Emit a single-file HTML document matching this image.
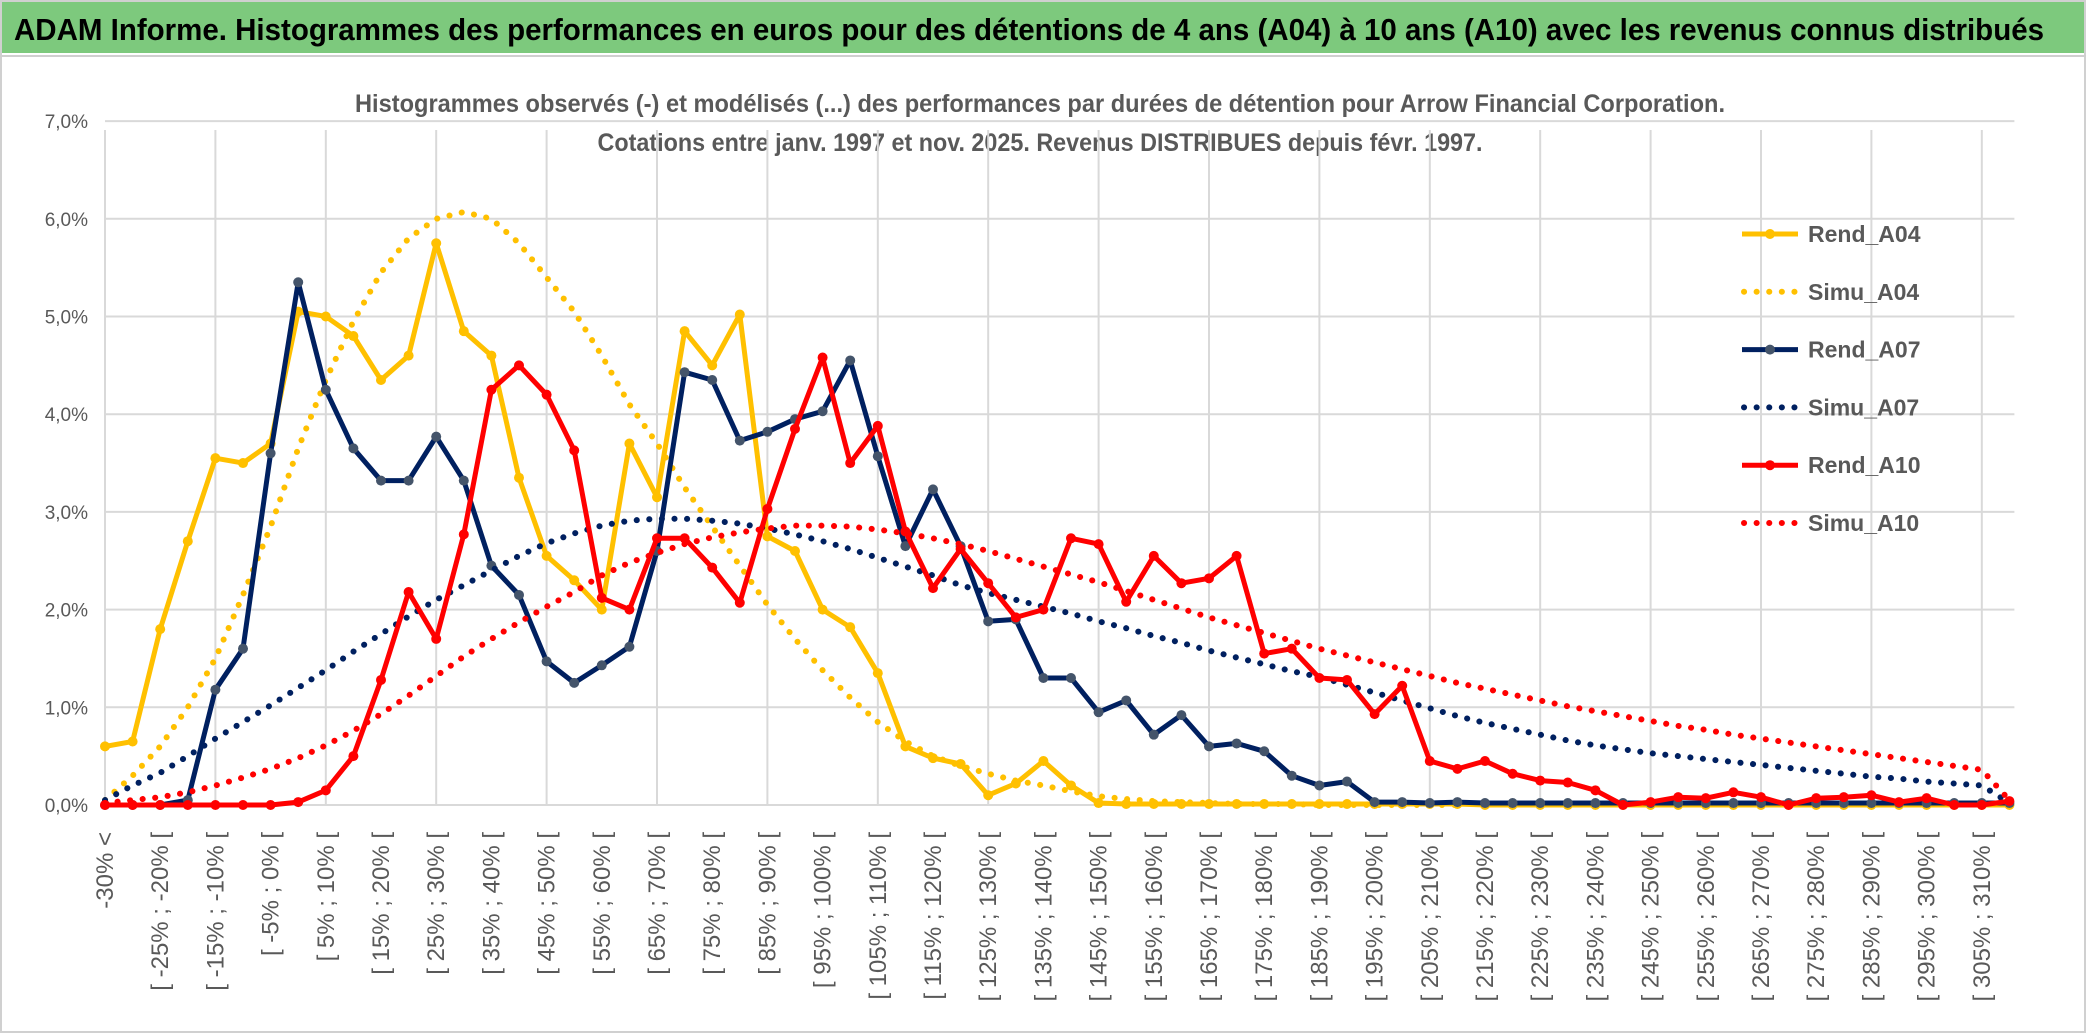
<!DOCTYPE html>
<html><head><meta charset="utf-8"><style>
html,body{margin:0;padding:0;background:#fff;}
svg{display:block;font-family:"Liberation Sans",sans-serif;}
</style></head><body>
<svg id="chart" width="2086" height="1033" viewBox="0 0 2086 1033" xmlns="http://www.w3.org/2000/svg">
<rect x="0" y="0" width="2086" height="1033" fill="#fff"/>
<rect x="1" y="1" width="2084" height="1031" fill="none" stroke="#d0d0d0" stroke-width="2"/>
<rect x="2" y="2" width="2082" height="51" fill="#7DC97D"/>
<line x1="0" y1="56" x2="2086" y2="56" stroke="#cfcfcf" stroke-width="2"/>
<text x="14" y="40" font-size="31" font-weight="bold" fill="#000" textLength="2030" lengthAdjust="spacingAndGlyphs">ADAM Informe. Histogrammes des performances en euros pour des détentions de 4 ans (A04) à 10 ans (A10) avec les revenus connus distribués</text>
<text x="1040" y="112" font-size="25" font-weight="bold" fill="#595959" text-anchor="middle" textLength="1370" lengthAdjust="spacingAndGlyphs">Histogrammes observés (-) et modélisés (...) des performances par durées de détention pour Arrow Financial Corporation.</text>
<text x="1040" y="151" font-size="25" font-weight="bold" fill="#595959" text-anchor="middle" textLength="885" lengthAdjust="spacingAndGlyphs">Cotations entre janv. 1997 et nov. 2025. Revenus DISTRIBUES depuis févr. 1997.</text>
<g id="grid"></g>
<g id="yticks"></g>
<g id="xticks"></g>
<g id="series"></g>
<g id="legend"></g>
</svg>
<script>
const yTicks = [0,1,2,3,4,5,6,7];
const rendA04 = [0.6,0.65,1.8,2.7,3.55,3.5,3.7,5.05,5.0,4.8,4.35,4.6,5.75,4.85,4.6,3.35,2.55,2.3,2.0,3.7,3.15,4.85,4.5,5.02,2.75,2.6,2.0,1.82,1.35,0.6,0.48,0.42,0.1,0.22,0.45,0.2,0.02,0.01,0.01,0.01,0.01,0.01,0.01,0.01,0.01,0.01,0.01,0.01,0.01,0.01,0,0,0,0,0,0,0,0,0,0,0,0,0,0,0,0,0,0,0,0];
const simuA04 = [0.05,0.3,0.6,1.0,1.5,2.15,2.85,3.65,4.35,4.95,5.45,5.8,6.0,6.07,6.0,5.75,5.4,5.05,4.6,4.1,3.7,3.25,2.85,2.45,2.05,1.7,1.38,1.1,0.85,0.65,0.5,0.4,0.32,0.25,0.2,0.14,0.09,0.06,0.04,0.03,0.02,0.01,0.01,0.01,0,0,0,0,0,0];
const rendA07 = [0,0,0,0.05,1.18,1.6,3.6,5.35,4.25,3.65,3.32,3.32,3.77,3.32,2.45,2.15,1.47,1.25,1.43,1.62,2.6,4.43,4.35,3.73,3.82,3.95,4.03,4.55,3.57,2.65,3.23,2.65,1.88,1.9,1.3,1.3,0.95,1.07,0.72,0.92,0.6,0.63,0.55,0.3,0.2,0.24,0.03,0.03,0.02,0.03,0.02,0.02,0.02,0.02,0.02,0.02,0.02,0.02,0.02,0.02,0.02,0.02,0.02,0.02,0.02,0.02,0.02,0.02,0.02,0.02];
const simuA07 = [0.05,0.2,0.33,0.5,0.68,0.85,1.02,1.2,1.38,1.57,1.75,1.93,2.1,2.25,2.4,2.55,2.68,2.78,2.86,2.91,2.93,2.93,2.91,2.88,2.83,2.77,2.7,2.62,2.53,2.44,2.35,2.25,2.17,2.1,2.03,1.96,1.88,1.81,1.73,1.66,1.58,1.51,1.44,1.37,1.31,1.23,1.15,1.07,0.99,0.91,0.84,0.78,0.72,0.66,0.61,0.57,0.53,0.5,0.47,0.44,0.41,0.38,0.35,0.32,0.29,0.27,0.24,0.22,0.2,0.02];
const rendA10 = [0,0,0,0,0,0,0,0.03,0.15,0.5,1.28,2.18,1.7,2.77,4.25,4.5,4.2,3.63,2.12,2.0,2.73,2.73,2.43,2.07,3.03,3.85,4.58,3.5,3.88,2.8,2.22,2.62,2.27,1.92,2.0,2.73,2.67,2.08,2.55,2.27,2.32,2.55,1.55,1.6,1.3,1.28,0.93,1.22,0.45,0.37,0.45,0.32,0.25,0.23,0.15,0.0,0.03,0.08,0.07,0.13,0.08,0.0,0.07,0.08,0.1,0.03,0.07,0.0,0.0,0.04];
const simuA10 = [0.02,0.05,0.08,0.13,0.2,0.28,0.37,0.48,0.61,0.76,0.93,1.12,1.32,1.52,1.7,1.87,2.03,2.18,2.35,2.48,2.58,2.67,2.74,2.79,2.83,2.86,2.86,2.85,2.82,2.78,2.73,2.67,2.6,2.52,2.44,2.36,2.28,2.19,2.1,2.01,1.92,1.84,1.76,1.68,1.6,1.53,1.46,1.39,1.32,1.25,1.19,1.13,1.07,1.01,0.96,0.91,0.86,0.81,0.77,0.72,0.68,0.64,0.6,0.56,0.52,0.48,0.44,0.4,0.36,0.05];
const categories = ["-30% <"];
for (let i = 1; i < 70; i++) { const a = -30 + (i - 1) * 5; categories.push("[ " + a + "% ; " + (a + 5) + "% ["); }

const NS = "http://www.w3.org/2000/svg";
const X0 = 105, DX = 27.6, Y0 = 805, DY = 97.7;
function xPos(i){ return X0 + i * DX; }
function yPos(v){ return Y0 - v * DY; }
function mk(tag, attrs, parent){ const e = document.createElementNS(NS, tag); for (const k in attrs) e.setAttribute(k, attrs[k]); parent.appendChild(e); return e; }

const grid = document.getElementById('grid');
const xEnd = xPos(categories.length - 1);
yTicks.forEach(v => {
  const l = mk('line', {x1: X0, x2: xEnd + 5, y1: yPos(v), y2: yPos(v), stroke: '#d9d9d9', 'stroke-width': 2}, grid);
  
  
  const t = mk('text', {x: 88, y: yPos(v) + 7, 'font-size': 19, fill: '#595959', 'text-anchor': 'end'}, document.getElementById('yticks'));
  t.textContent = v.toFixed(1).replace('.', ',') + '%';
  
  
});
for (let i = 0; i < categories.length; i += 4) {
  const l = mk('line', {x1: xPos(i), x2: xPos(i), y1: 130, y2: Y0, stroke: '#d9d9d9', 'stroke-width': 2}, grid);
  
  
}
const xt = document.getElementById('xticks');
for (let i = 0; i < categories.length; i += 2) {
  const t = mk('text', {x: 0, y: 0, 'font-size': 24, fill: '#595959', 'text-anchor': 'end', transform: 'translate(' + (xPos(i) + 8) + ',832) rotate(-90)'}, xt);
  t.textContent = categories[i];
  
  
}

const seriesG = document.getElementById('series');
function drawDotted(vals, color, name){
  const pts = vals.map((v, i) => xPos(i).toFixed(1) + ',' + yPos(v).toFixed(1)).join(' ');
  const p = mk('polyline', {points: pts, fill: 'none', stroke: color, 'stroke-width': 6, 'stroke-linecap': 'round', 'stroke-dasharray': '0.1 12.5'}, seriesG);
  
  
}
function drawSolid(vals, color, mcolor, name){
  const g = mk('g', {}, seriesG);
  
  
  const pts = vals.map((v, i) => xPos(i).toFixed(1) + ',' + yPos(v).toFixed(1)).join(' ');
  mk('polyline', {points: pts, fill: 'none', stroke: color, 'stroke-width': 5, 'stroke-linejoin': 'round'}, g);
  vals.forEach((v, i) => {
    const c = mk('circle', {cx: xPos(i), cy: yPos(v), r: 5, fill: mcolor}, g);
    
    
  });
}
drawSolid(rendA04, '#FFC000', '#FFC000', 'rend-a04-line');
drawDotted(simuA04, '#FFC000', 'simu-a04-line');
drawSolid(rendA07, '#002060', '#44546A', 'rend-a07-line');
drawDotted(simuA07, '#002060', 'simu-a07-line');
drawSolid(rendA10, '#FF0000', '#FF0000', 'rend-a10-line');
drawDotted(simuA10, '#FF0000', 'simu-a10-line');

const legendItems = [["Rend_A04", '#FFC000', '#FFC000', false], ["Simu_A04", '#FFC000', null, true], ["Rend_A07", '#002060', '#44546A', false], ["Simu_A07", '#002060', null, true], ["Rend_A10", '#FF0000', '#FF0000', false], ["Simu_A10", '#FF0000', null, true]];
const lg = document.getElementById('legend');
legendItems.forEach((it, k) => {
  const y = 234 + k * 57.8;
  const g = mk('g', {}, lg);
  
  
  if (it[3]) mk('line', {x1: 1744, x2: 1798, y1: y, y2: y, stroke: it[1], 'stroke-width': 6, 'stroke-linecap': 'round', 'stroke-dasharray': '0.1 12.5'}, g);
  else { mk('line', {x1: 1742, x2: 1798, y1: y, y2: y, stroke: it[1], 'stroke-width': 5}, g); mk('circle', {cx: 1770, cy: y, r: 5, fill: it[2]}, g); }
  const t = mk('text', {x: 1808, y: y + 8, 'font-size': 23, 'font-weight': 'bold', fill: '#595959'}, g);
  t.textContent = it[0];
});
</script>
</body></html>
